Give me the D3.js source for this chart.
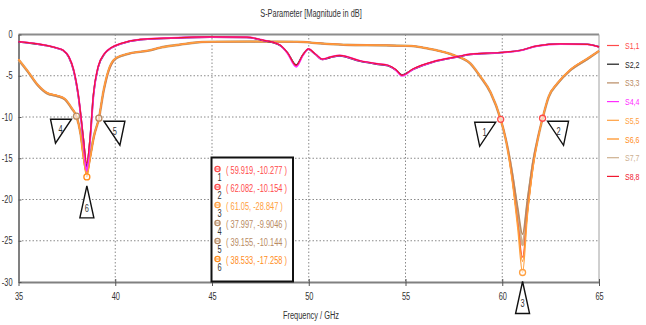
<!DOCTYPE html>
<html>
<head>
<meta charset="utf-8">
<script src="https://cdn.jsdelivr.net/npm/d3@7"></script>
<style>
  html, body { margin: 0; padding: 0; background: #fff; }
  svg { display: block; font-family: 'Liberation Sans', Arial, sans-serif; }
</style>
</head>
<body>
<svg id="chart" width="646" height="325"></svg>
<script>
// Frequency grids (GHz)
const freqA = [35, 35.5, 36, 36.5, 37, 37.3, 37.6, 37.85, 38.1, 38.35, 38.52, 38.7, 38.87, 39.12, 39.45, 39.8, 40.3, 41.3, 42.5, 44.9, 46.8, 47.6, 48.5, 48.9, 49.35, 49.7, 49.98, 50.35, 50.7, 51.1, 51.6, 52.66, 53.5, 54.1, 54.5, 54.82, 55.4, 56.44, 57.68, 58.35, 59.9, 60.9, 61.8, 63, 64.4, 65];
const freqB = [35, 35.5, 36, 36.5, 37, 37.4, 37.75, 37.997, 38.2, 38.35, 38.533, 38.7, 38.9, 39.155, 39.4, 39.65, 40, 40.7, 41.8, 42.3, 43.4, 44, 45, 47, 49.4, 50.6, 52, 53.5, 55, 56.4, 57.5, 58.35, 58.85, 59.4, 59.919, 60.2, 60.5, 60.8, 61.05, 61.3, 61.6, 61.85, 62.082, 62.4, 62.85, 63.5, 64.4, 65];

// Reflection magnitudes (dB)
const s11 = [-3.0, -4.5, -6.1, -7.1, -7.4, -7.8, -8.9, -9.9, -12.0, -14.6, -16.9, -15.0, -12.5, -10.1, -6.8, -4.4, -2.9, -2.3, -1.9, -1.6, -1.2, -1.0, -0.87, -0.85, -0.87, -1.07, -1.25, -1.3, -1.35, -1.8, -2.5, -3.5, -5.0, -7.0, -10.277, -12.9, -17.2, -22.8, -27.0, -21.5, -15.8, -12.5, -10.154, -7.5, -5.9, -4.3, -2.9, -2.0];
const s22 = [-0.9, -1.02, -1.17, -1.37, -1.67, -1.92, -2.75, -4.4, -7.6, -12.6, -16.0, -12.6, -7.4, -3.95, -2.35, -1.62, -1.12, -0.62, -0.48, -0.32, -0.36, -0.7, -1.3, -2.2, -3.7, -2.45, -1.78, -2.42, -3.02, -2.8, -2.6, -3.25, -3.6, -3.8, -4.3, -4.9, -4.2, -3.32, -2.72, -2.42, -2.2, -1.95, -1.4, -1.13, -1.18, -1.5];
const s33 = [-3.1, -4.6, -6.2, -7.2, -7.5, -7.9, -9.0, -9.9046, -11.8, -14.2, -16.4, -14.6, -12.2, -10.144, -6.9, -4.5, -3.0, -2.35, -1.95, -1.6, -1.22, -1.02, -0.88, -0.86, -0.88, -1.08, -1.27, -1.32, -1.37, -1.82, -2.55, -3.55, -5.1, -7.1, -10.3, -12.8, -16.5, -21.0, -24.2, -20.0, -15.2, -12.4, -10.2, -7.6, -6.0, -4.4, -3.0, -2.0];
const s44 = [-0.87, -1.0, -1.15, -1.35, -1.65, -1.9, -2.7, -4.3, -7.5, -12.8, -16.5, -12.8, -7.5, -3.9, -2.3, -1.6, -1.1, -0.6, -0.46, -0.3, -0.34, -0.67, -1.27, -2.25, -3.9, -2.5, -1.75, -2.4, -3.0, -2.75, -2.55, -3.2, -3.55, -3.75, -4.3, -5.0, -4.2, -3.3, -2.7, -2.4, -2.2, -1.96, -1.4, -1.15, -1.2, -1.5];
const s55 = [-3.0, -4.5, -6.1, -7.1, -7.4, -7.8, -8.9, -9.9, -12.0, -14.8, -17.0, -15.0, -12.3, -10.1, -6.7, -4.3, -2.9, -2.3, -1.9, -1.6, -1.2, -1.0, -0.87, -0.85, -0.87, -1.07, -1.25, -1.3, -1.35, -1.8, -2.5, -3.5, -5.0, -7.0, -10.28, -13.0, -17.5, -23.5, -28.847, -22.0, -16.0, -12.6, -10.15, -7.5, -5.9, -4.3, -2.9, -2.0];
const s66 = [-3.0, -4.5, -6.1, -7.1, -7.4, -7.8, -8.9, -9.95, -12.1, -15.0, -17.258, -15.2, -12.4, -10.15, -6.7, -4.3, -2.9, -2.3, -1.9, -1.6, -1.2, -1.0, -0.87, -0.85, -0.87, -1.07, -1.25, -1.3, -1.35, -1.8, -2.5, -3.5, -5.0, -7.0, -10.25, -12.9, -17.3, -23.0, -27.5, -21.8, -15.9, -12.6, -10.15, -7.5, -5.9, -4.3, -2.9, -2.0];
const s77 = [-3.05, -4.55, -6.15, -7.15, -7.45, -7.85, -8.95, -9.95, -11.9, -14.4, -16.6, -14.8, -12.3, -10.2, -6.8, -4.4, -2.95, -2.32, -1.92, -1.6, -1.21, -1.01, -0.88, -0.86, -0.88, -1.08, -1.26, -1.31, -1.36, -1.81, -2.52, -3.52, -5.05, -7.05, -10.3, -12.9, -16.8, -21.8, -25.5, -20.8, -15.5, -12.5, -10.2, -7.55, -5.95, -4.35, -2.95, -2.0];
const s88 = [-0.86, -0.99, -1.14, -1.34, -1.64, -1.89, -2.68, -4.25, -7.4, -12.5, -15.6, -12.5, -7.3, -3.85, -2.28, -1.58, -1.08, -0.58, -0.45, -0.29, -0.33, -0.66, -1.25, -2.2, -3.75, -2.45, -1.74, -2.38, -2.98, -2.74, -2.54, -3.18, -3.53, -3.73, -4.25, -4.95, -4.15, -3.28, -2.68, -2.38, -2.18, -1.94, -1.38, -1.14, -1.19, -1.5];

const seriesNames = ["S1,1", "S2,2", "S3,3", "S4,4", "S5,5", "S6,6", "S7,7", "S8,8"];
const seriesColors = ["#ff4a4a", "#1a1a1a", "#b88a62", "#ff2cff", "#ffa040", "#ff8c1a", "#cdb08f", "#f01830"];
const seriesFreq = [freqB, freqA, freqB, freqA, freqB, freqB, freqB, freqA];
const seriesVals = [s11, s22, s33, s44, s55, s66, s77, s88];
const seriesWidth = [1.2, 1.6, 1.6, 1.9, 1.3, 1.1, 2.6, 1.2];
// drawing order: wide-band family underneath, narrow family on top
const drawOrder = [6, 2, 0, 5, 4, 1, 3, 7];

// Markers: index, series, frequency, value
const markerIds = [1, 2, 3, 4, 5, 6];
const markerSeries = [0, 0, 4, 2, 2, 5];
const markerFreq = [59.919, 62.082, 61.05, 37.997, 39.155, 38.533];
const markerVal = [-10.277, -10.154, -28.847, -9.9046, -10.144, -17.258];
const markerLabels = ["( 59.919, -10.277 )", "( 62.082, -10.154 )", "( 61.05, -28.847 )", "( 37.997, -9.9046 )", "( 39.155, -10.144 )", "( 38.533, -17.258 )"];
const markerSide = ["left", "right", "below", "left", "right", "below"];

const xTicks = [35, 40, 45, 50, 55, 60, 65];
const yTicks = [0, -5, -10, -15, -20, -25, -30];

const svg = d3.select("#chart");
const x = d3.scaleLinear().domain([35, 65]).range([18.5, 599]);
const y = d3.scaleLinear().domain([-30, 0]).range([282, 34.5]);

// narrow the glyph run of a text element horizontally
function condense(sel, k) {
  sel.each(function () {
    const len = this.getComputedTextLength();
    d3.select(this).attr("textLength", len * k).attr("lengthAdjust", "spacingAndGlyphs");
  });
}
const K = 0.74;

// Title
svg.append("text").attr("x", 311).attr("y", 17).attr("text-anchor", "middle")
  .attr("font-size", 10).attr("fill", "#333").text("S-Parameter [Magnitude in dB]").call(condense, K);

// Grid
const grid = svg.append("g");
grid.selectAll("line.v").data(xTicks.slice(1, -1)).enter().append("line")
  .attr("x1", d => x(d)).attr("x2", d => x(d)).attr("y1", y(0)).attr("y2", y(-30))
  .attr("stroke", "#8a8a8a").attr("stroke-width", 1).attr("stroke-dasharray", "1.5,2");
grid.selectAll("line.h").data(yTicks.slice(1, -1)).enter().append("line")
  .attr("x1", x(35)).attr("x2", x(65)).attr("y1", d => y(d)).attr("y2", d => y(d))
  .attr("stroke", "#8a8a8a").attr("stroke-width", 1).attr("stroke-dasharray", "1.5,2");

// Frame
svg.append("line").attr("x1", x(35)).attr("x2", x(65)).attr("y1", y(0)).attr("y2", y(0))
  .attr("stroke", "#8c8c8c").attr("stroke-width", 2);
svg.append("line").attr("x1", x(65)).attr("x2", x(65)).attr("y1", y(0)).attr("y2", y(-30))
  .attr("stroke", "#a0a0a0").attr("stroke-width", 1);

// Axes
const fmt = d => String(d);
const xAxis = svg.append("g").attr("transform", `translate(0,${y(-30)})`)
  .call(d3.axisBottom(x).tickValues(xTicks).tickFormat(fmt).tickSizeInner(4).tickSizeOuter(0).tickPadding(7));
const yAxis = svg.append("g").attr("transform", `translate(${x(35)},0)`)
  .call(d3.axisLeft(y).tickValues(yTicks).tickFormat(fmt).tickSizeInner(3).tickSizeOuter(0).tickPadding(3));
[xAxis, yAxis].forEach(g => {
  g.select(".domain").attr("stroke", "#808080").attr("stroke-width", 2);
  g.selectAll(".tick line").attr("stroke", "#555");
  g.selectAll(".tick text").attr("font-size", 10).attr("fill", "#333")
    .attr("font-family", "'Liberation Sans', Arial, sans-serif").call(condense, K);
});
xAxis.selectAll(".tick line").attr("y1", -3);
yAxis.selectAll(".tick line").attr("x2", 3);

svg.append("text").attr("x", 311).attr("y", 319).attr("text-anchor", "middle")
  .attr("font-size", 10).attr("fill", "#333").text("Frequency / GHz").call(condense, K);

// Curves
const line = d3.line().x(d => x(d[0])).y(d => y(d[1])).curve(d3.curveMonotoneX);
const plot = svg.append("g");
drawOrder.forEach(i => {
  const pts = seriesFreq[i].map((f, k) => [f, seriesVals[i][k]]);
  plot.append("path").datum(pts).attr("d", line)
    .attr("fill", "none").attr("stroke", seriesColors[i])
    .attr("stroke-width", seriesWidth[i])
    .attr("stroke-linejoin", "round");
});

// Marker circles
plot.selectAll("circle.m").data(markerIds).enter().append("circle")
  .attr("cx", (d, i) => x(markerFreq[i])).attr("cy", (d, i) => y(markerVal[i]))
  .attr("r", 3).attr("fill", "#fff").attr("fill-opacity", 0.6)
  .attr("stroke", (d, i) => seriesColors[markerSeries[i]]).attr("stroke-width", 1.3);

// Marker callouts
const calloutShapes = {
  left:  { pts: [[-26, 3], [-5, 3], [-21, 27]], tx: -16, ty: 17 },
  right: { pts: [[5, 3], [26, 3], [21, 27]], tx: 16, ty: 17 },
  below: { pts: [[0, 9], [-7, 41], [7, 41]], tx: 0, ty: 35 }
};
markerIds.forEach((id, i) => {
  const cx = x(markerFreq[i]), cy = y(markerVal[i]);
  const s = calloutShapes[markerSide[i]];
  svg.append("polygon")
    .attr("points", s.pts.map(p => `${cx + p[0]},${cy + p[1]}`).join(" "))
    .attr("fill", "#fff").attr("stroke", "#111").attr("stroke-width", 1.4);
  svg.append("text").attr("x", cx + s.tx).attr("y", cy + s.ty).attr("text-anchor", "middle")
    .attr("font-size", 10).attr("fill", "#333").text(id).call(condense, K);
});

// Marker readout box
const box = svg.append("g");
box.append("rect").attr("x", 211.5).attr("y", 157.5).attr("width", 81.5).attr("height", 124)
  .attr("fill", "#fff").attr("stroke", "#111").attr("stroke-width", 2);
markerIds.forEach((id, i) => {
  const ry = 170.5 + i * 18;
  const col = seriesColors[markerSeries[i]];
  box.append("circle").attr("cx", 217.5).attr("cy", ry - 1.5).attr("r", 2.6)
    .attr("fill", "#fff").attr("stroke", col).attr("stroke-width", 1.3);
  box.append("line").attr("x1", 215.3).attr("x2", 219.7).attr("y1", ry - 1.5).attr("y2", ry - 1.5)
    .attr("stroke", col).attr("stroke-width", 1);
  box.append("text").attr("x", 219.5).attr("y", ry + 10).attr("text-anchor", "middle")
    .attr("font-size", 10).attr("fill", "#333").text(id).call(condense, K);
  box.append("text").attr("x", 226).attr("y", ry + 3.5)
    .attr("font-size", 10).attr("fill", col).text(markerLabels[i]).call(condense, K);
});

// Legend
const legend = svg.append("g");
seriesNames.forEach((name, i) => {
  const ly = 45.5 + i * 18.7;
  legend.append("line").attr("x1", 607).attr("x2", 619).attr("y1", ly).attr("y2", ly)
    .attr("stroke", seriesColors[i]).attr("stroke-width", 1.2);
  legend.append("text").attr("x", 625).attr("y", ly + 3.5)
    .attr("font-size", 9.5).attr("fill", seriesColors[i]).text(name).call(condense, K);
});
</script>
</body>
</html>
